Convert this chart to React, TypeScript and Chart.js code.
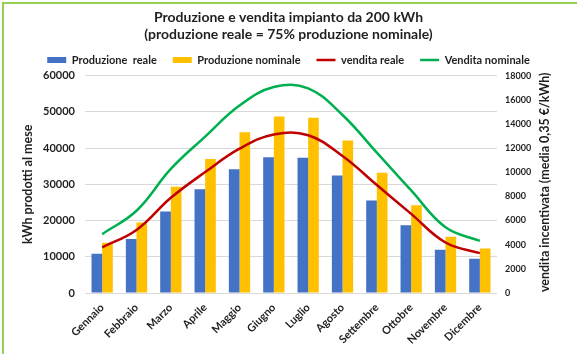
import { useEffect, useRef } from 'react';
import { Chart, registerables } from 'chart.js';

Chart.register(...registerables);

const months = ['Gennaio', 'Febbraio', 'Marzo', 'Aprile', 'Maggio', 'Giugno', 'Luglio', 'Agosto', 'Settembre', 'Ottobre', 'Novembre', 'Dicembre'];
const produzioneReale = [10800, 14900, 22500, 28600, 34150, 37500, 37300, 32400, 25550, 18700, 11940, 9440];
const produzioneNominale = [13900, 19450, 29350, 37000, 44350, 48700, 48400, 42100, 33200, 24250, 15550, 12300];
const venditaReale = [3780, 5220, 7880, 10010, 11950, 13130, 13060, 11340, 8940, 6550, 4180, 3300];
const venditaNominale = [4870, 6810, 10270, 12950, 15520, 17050, 16940, 14740, 11620, 8490, 5440, 4310];

const titleLines = ['Produzione e vendita impianto da 200 kWh', '(produzione reale = 75% produzione nominale)'];
const leftTitle = 'kWh prodotti al mese';
const rightTitle = 'vendita incentivata (media 0,35 €/kWh)';

const FONT = 'Lato, "Liberation Sans", sans-serif';
const TEXT = '#1f1f1f';

const rightTitlePlugin = {
  id: 'rightTitle',
  afterDraw(chart: any) {
    const { ctx, chartArea } = chart;
    ctx.save();
    ctx.translate(545, (chartArea.top + chartArea.bottom) / 2 - 2);
    ctx.rotate(-Math.PI / 2);
    ctx.font = `bold 12.5px ${FONT}`;
    ctx.fillStyle = TEXT;
    ctx.textAlign = 'center';
    ctx.textBaseline = 'middle';
    ctx.fillText(rightTitle, 0, 0);
    ctx.restore();
  },
};

export default function App() {
  const ref = useRef<HTMLCanvasElement | null>(null);

  useEffect(() => {
    if (!ref.current) return;
    const chart = new Chart(ref.current, {
      type: 'bar',
      data: {
        labels: months,
        datasets: [
          { type: 'bar', label: 'Produzione  reale', data: produzioneReale, backgroundColor: '#4472C4', borderWidth: 0, yAxisID: 'y', order: 2, categoryPercentage: 0.62, barPercentage: 1.0 },
          { type: 'bar', label: 'Produzione nominale', data: produzioneNominale, backgroundColor: '#FFC000', borderWidth: 0, yAxisID: 'y', order: 2, categoryPercentage: 0.62, barPercentage: 1.0 },
          { type: 'line', label: 'vendita reale', data: venditaReale, borderColor: '#C00000', backgroundColor: '#C00000', borderWidth: 2.5, pointRadius: 0, tension: 0.4, yAxisID: 'y1', order: 1 },
          { type: 'line', label: 'Vendita nominale', data: venditaNominale, borderColor: '#00B050', backgroundColor: '#00B050', borderWidth: 2.5, pointRadius: 0, tension: 0.4, yAxisID: 'y1', order: 1 },
        ],
      } as any,
      options: {
        responsive: false,
        animation: false,
        layout: { padding: { left: 8, right: 8, top: 0, bottom: 0 } },
        plugins: {
          tooltip: { enabled: false },
          title: {
            display: true,
            text: titleLines,
            color: TEXT,
            font: { family: FONT, size: 14, weight: 'bold', lineHeight: 1.2 },
            padding: { top: 9, bottom: -4 },
          },
          legend: {
            display: true,
            position: 'top',
            labels: {
              color: TEXT,
              font: { family: FONT, size: 11, weight: 'bold' },
              usePointStyle: true,
              pointStyleWidth: 19,
              boxHeight: 6,
              padding: 16,
              sort: (a: any, b: any) => a.datasetIndex - b.datasetIndex,
              generateLabels: (c: any) => {
                const items = (Chart.defaults.plugins.legend.labels as any).generateLabels(c);
                return items.map((it: any) => ({
                  ...it,
                  pointStyle: it.datasetIndex < 2 ? 'rect' : 'line',
                  lineWidth: it.datasetIndex < 2 ? 0 : 2.5,
                }));
              },
            },
          },
        },
        scales: {
          x: {
            grid: { display: false },
            border: { display: false },
            ticks: { color: TEXT, font: { family: FONT, size: 11, weight: 'bold' }, minRotation: 45, maxRotation: 45, padding: 0 },
            afterFit: (s: any) => { s.height = 61; },
          },
          y: {
            position: 'left',
            min: 0,
            max: 60000,
            ticks: { stepSize: 10000, color: TEXT, font: { family: FONT, size: 11, weight: 'bold' }, padding: 10, callback: (v: any) => String(v) },
            grid: { color: '#D9D9D9', drawTicks: false, lineWidth: 1 },
            border: { display: false },
            title: { display: true, text: leftTitle, color: TEXT, font: { family: FONT, size: 12.5, weight: 'bold' }, padding: { top: 12, bottom: 0 } },
            afterFit: (s: any) => { s.width = 77; },
          },
          y1: {
            position: 'right',
            min: 0,
            max: 18000,
            ticks: { stepSize: 2000, color: TEXT, font: { family: FONT, size: 9, weight: 'bold' }, padding: 8, callback: (v: any) => String(v) },
            grid: { display: false, drawTicks: false },
            border: { display: false },
            title: { display: false },
            afterFit: (s: any) => { s.width = 72; },
          },
        },
      } as any,
      plugins: [rightTitlePlugin],
    });
    return () => chart.destroy();
  }, []);

  return (
    <div style={{ position: 'fixed', left: 0, top: 0, width: 577, height: 354, background: '#fff', overflow: 'hidden' }}>
      <canvas ref={ref} width={577} height={354} style={{ position: 'absolute', left: 0, top: 0 }} />
      <div style={{ position: 'absolute', left: 2, top: 2, width: 700, height: 500, borderLeft: '2px solid #92D050', borderTop: '2px solid #92D050', pointerEvents: 'none' }} />
    </div>
  );
}
